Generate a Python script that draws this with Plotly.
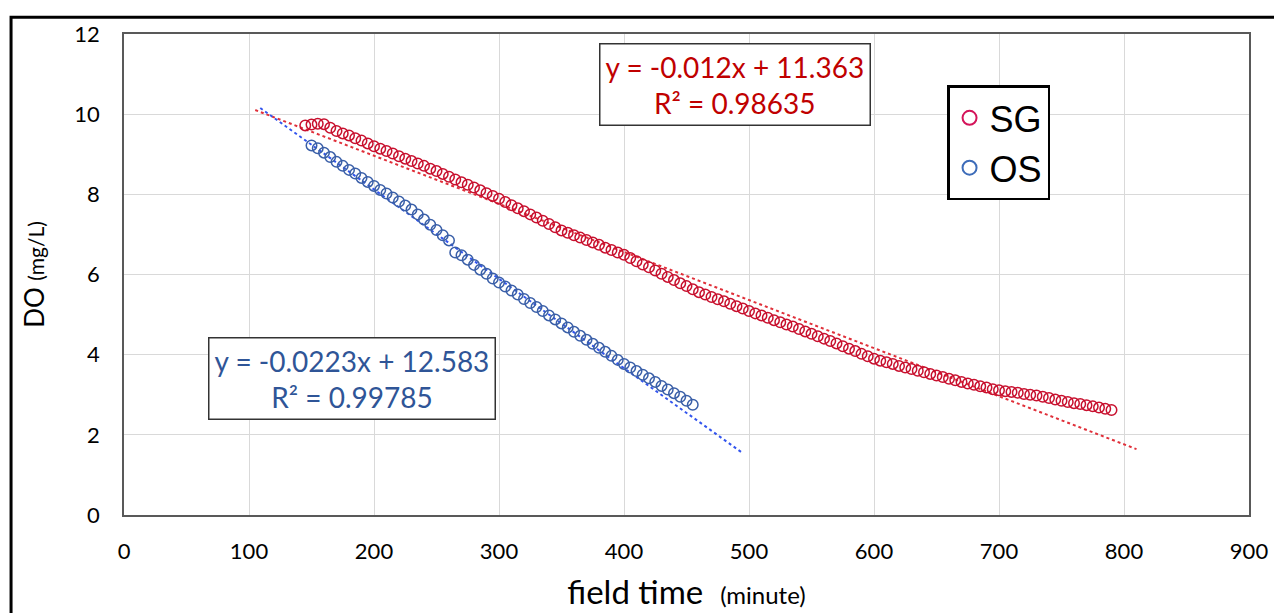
import plotly.graph_objects as go

# SG series (field time in minutes, DO in mg/L)
sg_time = list(range(145, 791, 5))
sg_do = [
    9.72, 9.74, 9.76, 9.75, 9.66, 9.58, 9.52, 9.47, 9.40, 9.34, 9.27, 9.20,
    9.14, 9.08, 9.02, 8.95, 8.89, 8.83, 8.77, 8.71, 8.64, 8.58, 8.51, 8.44,
    8.37, 8.30, 8.24, 8.17, 8.10, 8.03, 7.96, 7.89, 7.81, 7.73, 7.65, 7.58,
    7.50, 7.42, 7.34, 7.26, 7.18, 7.10, 7.04, 6.98, 6.92, 6.86, 6.80, 6.74,
    6.67, 6.61, 6.55, 6.49, 6.41, 6.33, 6.25, 6.18, 6.10, 6.02, 5.94, 5.86,
    5.78, 5.71, 5.63, 5.56, 5.50, 5.44, 5.38, 5.33, 5.27, 5.21, 5.15, 5.09,
    5.03, 4.98, 4.92, 4.86, 4.81, 4.75, 4.70, 4.64, 4.58, 4.52, 4.46, 4.40,
    4.34, 4.28, 4.21, 4.15, 4.09, 4.02, 3.96, 3.90, 3.85, 3.81, 3.77, 3.72,
    3.68, 3.64, 3.60, 3.56, 3.52, 3.48, 3.44, 3.40, 3.36, 3.32, 3.28, 3.25,
    3.21, 3.18, 3.14, 3.11, 3.09, 3.07, 3.05, 3.02, 3.00, 2.98, 2.95, 2.92,
    2.88, 2.85, 2.82, 2.79, 2.77, 2.74, 2.71, 2.68, 2.65, 2.62,
]

# OS series
os_time = list(range(150, 456, 5))
os_do = [
    9.22, 9.15, 9.04, 8.93, 8.81, 8.71, 8.61, 8.52, 8.41, 8.31, 8.21, 8.11,
    8.02, 7.92, 7.82, 7.72, 7.62, 7.50, 7.37, 7.24, 7.11, 6.98, 6.85, 6.55,
    6.48, 6.37, 6.24, 6.12, 6.02, 5.90, 5.80, 5.70, 5.60, 5.50, 5.39, 5.29,
    5.19, 5.09, 4.98, 4.88, 4.78, 4.68, 4.57, 4.47, 4.37, 4.27, 4.17, 4.07,
    3.97, 3.87, 3.77, 3.68, 3.59, 3.50, 3.41, 3.32, 3.22, 3.13, 3.04, 2.95,
    2.85, 2.75,
]

# linear trendlines as reported (slope, intercept) and their drawn extent
sg_fit = (-0.012, 11.363)
sg_fit_range = [105, 810]
os_fit = (-0.0223, 12.583)
os_fit_range = [109, 494]

SG_RED = '#C8102E'
OS_BLUE = '#2F5597'
FONT = 'Lato, sans-serif'

fig = go.Figure()

fig.add_trace(go.Scatter(
    x=sg_fit_range, y=[sg_fit[0] * t + sg_fit[1] for t in sg_fit_range],
    mode='lines', line=dict(color='#E0303A', width=2, dash='dot'),
    showlegend=False, hoverinfo='skip'))
fig.add_trace(go.Scatter(
    x=os_fit_range, y=[os_fit[0] * t + os_fit[1] for t in os_fit_range],
    mode='lines', line=dict(color='#3355EE', width=2, dash='dot'),
    showlegend=False, hoverinfo='skip'))

fig.add_trace(go.Scatter(
    x=sg_time, y=sg_do, mode='markers', name='SG', showlegend=False,
    marker=dict(symbol='circle-open', size=10.5, color=SG_RED, line=dict(width=1.5))))
fig.add_trace(go.Scatter(
    x=os_time, y=os_do, mode='markers', name='OS', showlegend=False,
    marker=dict(symbol='circle-open', size=10.5, color='#3A5FA8', line=dict(width=1.5))))

# legend-only entries (bigger symbols, like the reference legend)
fig.add_trace(go.Scatter(
    x=[None], y=[None], mode='markers', name='SG',
    marker=dict(symbol='circle-open', size=14, color='#D4145A', line=dict(width=2))))
fig.add_trace(go.Scatter(
    x=[None], y=[None], mode='markers', name='OS',
    marker=dict(symbol='circle-open', size=14, color='#3D6CB9', line=dict(width=2))))

fig.add_annotation(
    x=489, y=10.74, xref='x', yref='y', xanchor='center', yanchor='middle',
    text=f'y = {sg_fit[0]}x + {sg_fit[1]}<br>R² = 0.98635', showarrow=False,
    font=dict(family=FONT, size=28, color='#C00000'), align='center',
    bgcolor='white', bordercolor='#333', borderwidth=1.5, borderpad=5)
fig.add_annotation(
    x=182, y=3.40, xref='x', yref='y', xanchor='center', yanchor='middle',
    text=f'y = {os_fit[0]}x + {os_fit[1]}<br>R² = 0.99785', showarrow=False,
    font=dict(family=FONT, size=28, color=OS_BLUE), align='center',
    bgcolor='white', bordercolor='#333', borderwidth=1.5, borderpad=5)

# outer chart frame
fig.add_shape(type='rect', xref='paper', yref='paper',
              x0=-0.1004, x1=1.04, y0=-0.25, y1=1.035,
              line=dict(color='black', width=3), layer='below')

fig.update_layout(
    width=1282, height=613,
    margin=dict(l=116, r=41, t=23, b=106),
    paper_bgcolor='white', plot_bgcolor='white',
    font=dict(family=FONT, color='black'),
    legend=dict(
        x=0.7316, y=0.893, xanchor='left', yanchor='top',
        bgcolor='white', bordercolor='black', borderwidth=2.5,
        font=dict(family='Liberation Sans, Arial, sans-serif', size=36),
        itemwidth=30),
    xaxis=dict(
        range=[0, 900], dtick=100, tick0=0,
        showgrid=True, gridcolor='#D9D9D9', gridwidth=1,
        showline=True, linecolor='#595959', linewidth=1.5, mirror=True,
        zeroline=False, ticks='', ticklabelstandoff=16,
        tickfont=dict(family=FONT, size=22, color='black'),
        title=dict(text="field time&nbsp;&nbsp;<span style='font-size:24px'>(minute)</span>",
                   font=dict(family=FONT, size=33, color='black'), standoff=18)),
    yaxis=dict(
        range=[0, 12], dtick=2, tick0=0,
        showgrid=True, gridcolor='#D9D9D9', gridwidth=1,
        showline=True, linecolor='#595959', linewidth=1.5, mirror=True,
        zeroline=False, ticks='', ticklabelstandoff=18,
        tickfont=dict(family=FONT, size=22, color='black'),
        title=dict(text="DO&nbsp;<span style='font-size:21px'>(mg/L)</span>",
                   font=dict(family=FONT, size=26, color='black'), standoff=22)),
)

fig.write_html("out.html")
